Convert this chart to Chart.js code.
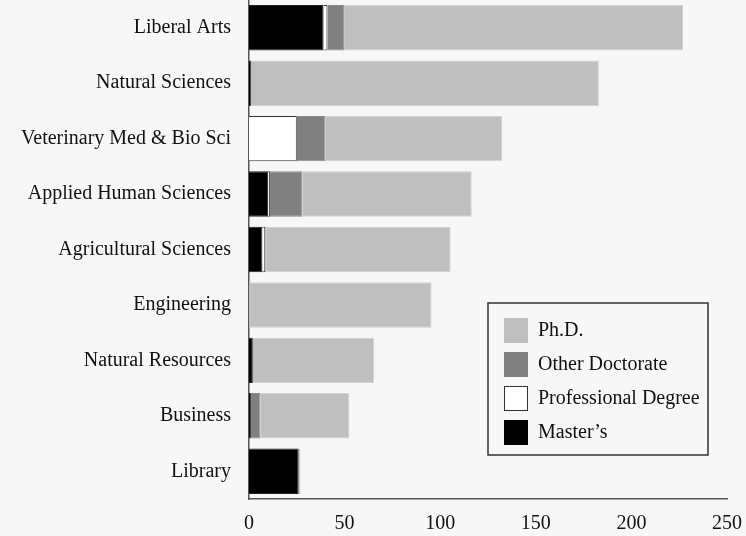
<!DOCTYPE html>
<html>
<head>
<meta charset="utf-8">
<script src="https://cdn.jsdelivr.net/npm/chart.js@4"></script>
<style>
  html, body { margin: 0; padding: 0; background: #f7f7f7; }
  #wrap { width: 746px; height: 536px; position: relative; }
</style>
</head>
<body>
<div id="wrap"><canvas id="chart"></canvas></div>
<script>
// Degrees awarded by college, stacked by degree type
const colleges = ['Liberal Arts', 'Natural Sciences', 'Veterinary Med & Bio Sci', 'Applied Human Sciences',
  'Agricultural Sciences', 'Engineering', 'Natural Resources', 'Business', 'Library'];
const masters      = [39, 1, 0, 10, 7, 0, 2, 1, 26];
const professional = [2, 0, 25, 1, 1.5, 0, 0, 0, 0];
const otherDoc     = [9, 0, 15, 17, 0.5, 0, 0, 5, 0];
const phd          = [177, 182, 92.5, 88.5, 96.5, 95.5, 63.5, 46.5, 1];
const xTicks = [0, 50, 100, 150, 200, 250];

const serif = "'Liberation Serif', 'Times New Roman', serif";
const ink = '#111';
const axisColor = '#555';

// legend box drawn inside the plot, in reverse dataset order
const boxLegend = {
  id: 'boxLegend',
  afterDraw(chart) {
    const ctx = chart.ctx;
    const x = 488, y = 303, w = 220, h = 152;
    ctx.save();
    ctx.strokeStyle = '#333';
    ctx.lineWidth = 1.5;
    ctx.strokeRect(x, y, w, h);
    ctx.font = '20px ' + serif;
    ctx.textBaseline = 'middle';
    const sets = chart.data.datasets.slice().reverse();
    sets.forEach((ds, i) => {
      const cy = y + 27 + i * 34;
      ctx.fillStyle = ds.backgroundColor;
      ctx.fillRect(504, cy - 12, 24, 25);
      if (ds.legendStroke) {
        ctx.strokeStyle = '#333';
        ctx.lineWidth = 1;
        ctx.strokeRect(504.5, cy - 11.5, 23, 24);
      }
      ctx.fillStyle = ink;
      ctx.fillText(ds.label, 538, cy + 1);
    });
    ctx.restore();
  }
};

new Chart(document.getElementById('chart'), {
  type: 'bar',
  data: {
    labels: colleges,
    datasets: [
      { label: 'Master\u2019s', data: masters, backgroundColor: '#000000', borderColor: '#222', borderWidth: 1 },
      { label: 'Professional Degree', data: professional, backgroundColor: '#ffffff', borderColor: '#333', borderWidth: 1, legendStroke: true },
      { label: 'Other Doctorate', data: otherDoc, backgroundColor: '#808080', borderColor: '#8a8a8a', borderWidth: 1 },
      { label: 'Ph.D.', data: phd, backgroundColor: '#bfbfbf', borderColor: '#d2d2d2', borderWidth: 1 }
    ]
  },
  options: {
    indexAxis: 'y',
    responsive: true, maintainAspectRatio: false,
    animation: false,
    layout: { padding: { top: 0, right: 19, left: 0, bottom: 0 } },
    datasets: { bar: { categoryPercentage: 0.82, barPercentage: 1 } },
    plugins: { legend: { display: false }, tooltip: { enabled: false } },
    scales: {
      x: {
        stacked: true, min: 0, max: 250,
        afterBuildTicks: s => { s.ticks = xTicks.map(v => ({ value: v })); },
        afterFit: s => { s.height = 37; s.paddingLeft = 0; s.paddingRight = 0; },
        grid: { display: false, drawTicks: false },
        border: { display: true, color: axisColor, width: 1.5 },
        ticks: { color: ink, padding: 13, maxRotation: 0, font: { family: serif, size: 20 } }
      },
      y: {
        stacked: true,
        afterFit: s => { s.width = 249; s.paddingTop = 0; s.paddingBottom = 0; },
        grid: { display: false, drawTicks: false },
        border: { display: true, color: axisColor, width: 1.5 },
        ticks: { color: ink, padding: 18, font: { family: serif, size: 20 } }
      }
    }
  },
  plugins: [boxLegend]
});
</script>
</body>
</html>
